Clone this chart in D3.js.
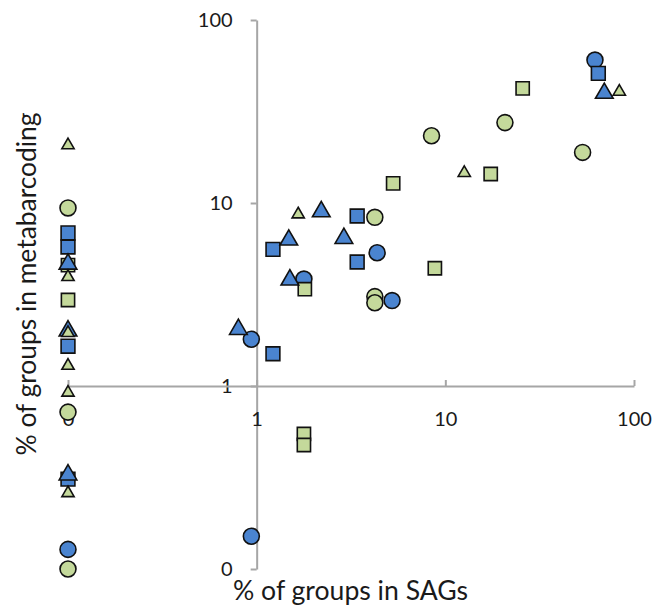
<!DOCTYPE html>
<html>
<head>
<meta charset="utf-8">
<script src="https://cdn.jsdelivr.net/npm/d3@7"></script>
<style>
  html, body { margin: 0; padding: 0; background: #fff; }
  svg text { font-family: Lato, "Open Sans", sans-serif; fill: #1a1a1a; }
</style>
</head>
<body>
<svg id="chart" width="655" height="606"></svg>
<script>
// Tick values and labels (0 is shown at 0.1 on the log axes)
const tickValues = [0.1, 1, 10, 100];
const tickLabels = ["0", "1", "10", "100"];

// Series: [x = % of groups in SAGs, y = % of groups in metabarcoding]
const greenCircles = [
  [20.7, 27.5], [8.45, 23.3], [53.4, 18.9], [4.23, 8.35], [4.23, 3.08], [4.23, 2.85],
  [0.1, 9.4], [0.1, 0.72], [0.1, 0.1]
];
const blueCircles = [
  [62.1, 60.4], [4.35, 5.35], [1.78, 3.84], [5.22, 2.93], [0.937, 1.80], [0.937, 0.151],
  [0.1, 0.128]
];
const blueSquares = [
  [64.7, 51.1], [3.41, 8.49], [1.22, 5.58], [3.41, 4.76], [1.22, 1.50],
  [0.1, 6.86], [0.1, 5.75], [0.1, 1.65], [0.1, 0.31]
];
const greenSquares = [
  [25.7, 42.3], [17.4, 14.4], [5.29, 12.8], [8.80, 4.40], [1.80, 3.38], [1.78, 0.547], [1.78, 0.476],
  [0.1, 4.58], [0.1, 2.95]
];
const blueTriangles = [
  [69.6, 39.8], [2.20, 8.97], [1.48, 6.28], [2.90, 6.41], [1.50, 3.80], [0.80, 2.04],
  [0.1, 4.64], [0.1, 2.0], [0.1, 0.327]
];
const greenTriangles = [
  [83.6, 40.6], [12.6, 14.6], [1.66, 8.67],
  [0.1, 20.7], [0.1, 3.94], [0.1, 1.95], [0.1, 1.29], [0.1, 0.92], [0.1, 0.26]
];

const BLUE = "#4a84d0", GREEN = "#c4d99b";

const svg = d3.select("#chart");
const x = d3.scaleLog().domain([0.1, 100]).range([68, 634]);
const y = d3.scaleLog().domain([0.1, 100]).range([569, 20]);

const fmt = d => tickLabels[tickValues.indexOf(d)];

// Y axis (crosses at x = 1)
const gy = svg.append("g")
  .attr("transform", `translate(${x(1)},0)`)
  .call(d3.axisLeft(y).tickValues(tickValues).tickFormat(fmt)
        .tickSizeInner(6).tickSizeOuter(0).tickPadding(18));
// X axis (crosses at y = 1), ticks pointing up
const gx = svg.append("g")
  .attr("transform", `translate(0,${y(1)})`)
  .call(d3.axisBottom(x).tickValues(tickValues).tickFormat(fmt)
        .tickSizeInner(-6).tickSizeOuter(0).tickPadding(26));

[gx, gy].forEach(g => {
  g.selectAll("path.domain").attr("stroke", "#a6a6a6").attr("stroke-width", 2);
  g.selectAll(".tick line").attr("stroke", "#a6a6a6").attr("stroke-width", 2);
  g.selectAll(".tick text").style("font-size", "20px").attr("fill", "#1a1a1a");
});

// Axis titles
svg.append("text")
  .attr("x", 233).attr("y", 600)
  .style("font-size", "26px")
  .attr("textLength", 235).attr("lengthAdjust", "spacingAndGlyphs")
  .text("% of groups in SAGs");
svg.append("text")
  .attr("transform", "translate(36,284) rotate(-90)")
  .attr("text-anchor", "middle")
  .style("font-size", "26px")
  .attr("textLength", 343).attr("lengthAdjust", "spacingAndGlyphs")
  .text("% of groups in metabarcoding");

// Markers
const series = [
  { data: greenCircles,   type: d3.symbolCircle,   size: 200, color: GREEN },
  { data: blueCircles,    type: d3.symbolCircle,   size: 200, color: BLUE },
  { data: blueSquares,    type: d3.symbolSquare,   size: 190, color: BLUE },
  { data: greenSquares,   type: d3.symbolSquare,   size: 175, color: GREEN },
  { data: blueTriangles,  type: d3.symbolTriangle, size: 135, color: BLUE },
  { data: greenTriangles, type: d3.symbolTriangle, size: 65,  color: GREEN }
];

series.forEach(s => {
  svg.append("g").selectAll("path")
    .data(s.data)
    .join("path")
    .attr("transform", d => `translate(${x(d[0])},${y(d[1])})`)
    .attr("d", d3.symbol().type(s.type).size(s.size))
    .attr("fill", s.color)
    .attr("stroke", "#111")
    .attr("stroke-width", 1.6);
});
</script>
</body>
</html>
